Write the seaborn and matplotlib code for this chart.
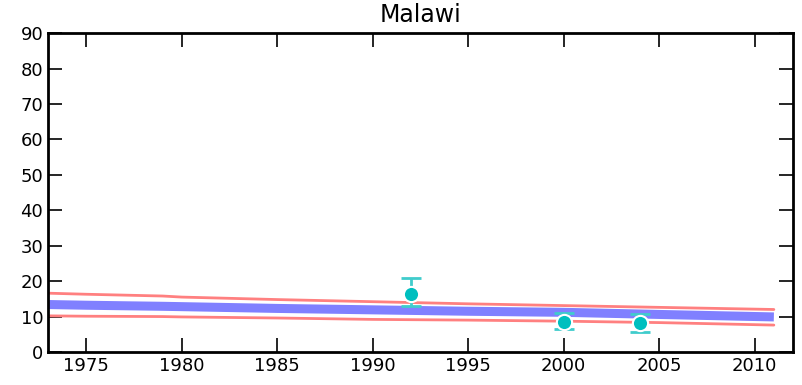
import numpy as np
import pandas as pd
import matplotlib
matplotlib.use("Agg")
import matplotlib.pyplot as plt
import seaborn as sns

sns.set_style("white")
plt.rcParams['font.family'] = ['DejaVu Sans']

# Model estimate (blue) and its bounds (red)
years = [1973, 1975, 1979, 1980, 1985, 1990, 1995, 2000, 2005, 2011]
estimate = [13.4, 13.2, 12.9, 12.8, 12.3, 11.9, 11.5, 11.2, 10.6, 9.9]
upper = [16.6, 16.3, 15.8, 15.5, 14.8, 14.2, 13.6, 13.1, 12.6, 12.0]
lower = [10.2, 10.1, 10.0, 9.9, 9.6, 9.2, 9.0, 8.7, 8.3, 7.6]

# Survey points with error bars
obs_years = [1992, 2000, 2004]
obs_values = [16.4, 8.5, 8.2]
obs_low = [13.0, 6.5, 5.6]
obs_high = [20.9, 11.0, 10.7]

df = pd.DataFrame({'year': years, 'estimate': estimate, 'upper': upper, 'lower': lower})
obs = pd.DataFrame({'year': obs_years, 'value': obs_values})

fig = plt.figure(figsize=(8.03, 3.85), dpi=100)
ax = fig.add_axes([0.0598, 0.0857, 0.9277, 0.8283])

sns.lineplot(data=df, x='year', y='upper', color='#ff8080', linewidth=2, ax=ax)
sns.lineplot(data=df, x='year', y='lower', color='#ff8080', linewidth=2, ax=ax)
sns.lineplot(data=df, x='year', y='estimate', color='#8080ff', linewidth=6.5,
             solid_capstyle='butt', ax=ax)

yerr = [np.array(obs_values) - np.array(obs_low), np.array(obs_high) - np.array(obs_values)]
ax.errorbar(obs_years, obs_values, yerr=yerr, fmt='none', ecolor='#40cccc',
            elinewidth=2, capsize=7, capthick=2, zorder=4)
sns.scatterplot(data=obs, x='year', y='value', color='#00bfbf', s=120,
                edgecolor='white', linewidth=1.5, zorder=5, ax=ax)

ax.set_xlim(1973, 2012)
ax.set_ylim(0, 90)
ax.set_xticks([1975, 1980, 1985, 1990, 1995, 2000, 2005, 2010])
ax.set_yticks(range(0, 100, 10))
ax.set_xlabel('')
ax.set_ylabel('')
ax.set_title('Malawi', fontsize=17, color='black', pad=8)
ax.tick_params(direction='in', length=10, width=1.2, top=True, right=True,
               bottom=True, left=True, labelsize=13, colors='black')
for s in ax.spines.values():
    s.set_linewidth(2)
    s.set_color('black')

fig.savefig('out.png', dpi=100)
